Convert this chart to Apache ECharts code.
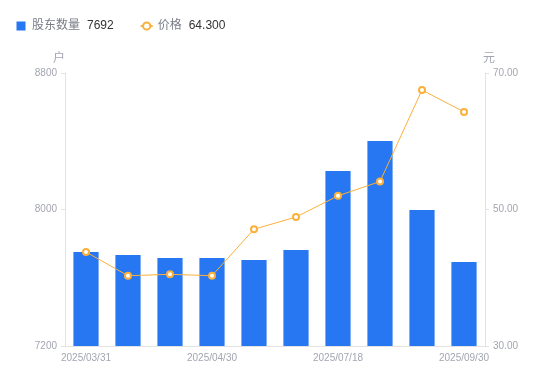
<!DOCTYPE html>
<html><head><meta charset="utf-8">
<script src="https://cdn.jsdelivr.net/npm/echarts@6/dist/echarts.min.js"></script>
<style>html,body{margin:0;padding:0;background:#fff}#c{width:550px;height:381px}</style>
</head><body><div id="c"></div>
<script>
const categories = ['2025/03/31','2025/04/10','2025/04/20','2025/04/30','2025/05/31','2025/06/30','2025/07/18','2025/08/10','2025/08/31','2025/09/30'];
const holders = [7751, 7733, 7716, 7716, 7704, 7763, 8226, 8402, 7997, 7692];
const prices = [43.77, 40.30, 40.50, 40.30, 47.10, 48.90, 52.00, 54.10, 67.50, 64.30];
const leftTicks = { min: 7200, max: 8800, interval: 800 };
const rightTicks = { min: 30, max: 70, interval: 20 };

const chart = echarts.init(document.getElementById('c'), null, { renderer: 'canvas' });
const lastVal = { '股东数量': String(holders[holders.length-1]), '价格': prices[prices.length-1].toFixed(3) };
const fam = '"Liberation Sans","Noto Sans CJK SC",Arial,sans-serif';
const gray = '#a3a6b1';
chart.setOption({
  animation: false,
  textStyle: { fontFamily: fam },
  legend: {
    left: 10, top: 15, itemGap: 26,
    itemWidth: 12, itemHeight: 9,
    data: [
      { name: '股东数量', icon: 'path://M0,0h12v0zM1.5,0h9v9h-9z', itemStyle: { color: '#2677f1' } },
      { name: '价格' }
    ],
    formatter: n => '{n|' + n + '}{v|' + lastVal[n] + '}',
    textStyle: { rich: {
      n: { color: '#7a7d88', fontSize: 12, fontFamily: fam },
      v: { color: '#333', fontSize: 12, fontFamily: fam, padding: [0, 0, 0, 7] } } }
  },
  grid: { left: 65, right: 65, top: 73, bottom: 35 },
  xAxis: {
    type: 'category', data: categories,
    axisLine: { lineStyle: { color: '#e3e3e3' } },
    axisTick: { show: false },
    axisLabel: { color: gray, fontSize: 10, interval: 2, margin: 7, fontFamily: fam }
  },
  yAxis: [
    { type: 'value', name: '户', min: leftTicks.min, max: leftTicks.max, interval: leftTicks.interval,
      nameTextStyle: { color: gray, fontSize: 12, padding: [0, 12, 0, 0] }, nameGap: 8,
      axisLine: { show: true, lineStyle: { color: '#e3e3e3' } },
      axisTick: { show: true, length: 4, lineStyle: { color: '#e3e3e3' } },
      splitLine: { show: false },
      axisLabel: { color: gray, fontSize: 10, margin: 8, fontFamily: fam, formatter: v => String(v) } },
    { type: 'value', name: '元', min: rightTicks.min, max: rightTicks.max, interval: rightTicks.interval,
      nameTextStyle: { color: gray, fontSize: 12, padding: [0, 0, 0, 8] }, nameGap: 8,
      axisLine: { show: true, lineStyle: { color: '#e3e3e3' } },
      axisTick: { show: true, length: 4, lineStyle: { color: '#e3e3e3' } },
      splitLine: { show: false },
      axisLabel: { color: gray, fontSize: 10, margin: 8, fontFamily: fam, formatter: v => v.toFixed(2) } }
  ],
  series: [
    { name: '股东数量', type: 'bar', data: holders, barWidth: '60%', yAxisIndex: 0,
      itemStyle: { color: '#2677f1' } },
    { name: '价格', type: 'line', data: prices, yAxisIndex: 1,
      symbol: 'emptyCircle', symbolSize: 6,
      lineStyle: { color: '#fbb03b', width: 1 },
      itemStyle: { color: '#fbb03b', borderWidth: 2 } }
  ]
});
</script></body></html>
